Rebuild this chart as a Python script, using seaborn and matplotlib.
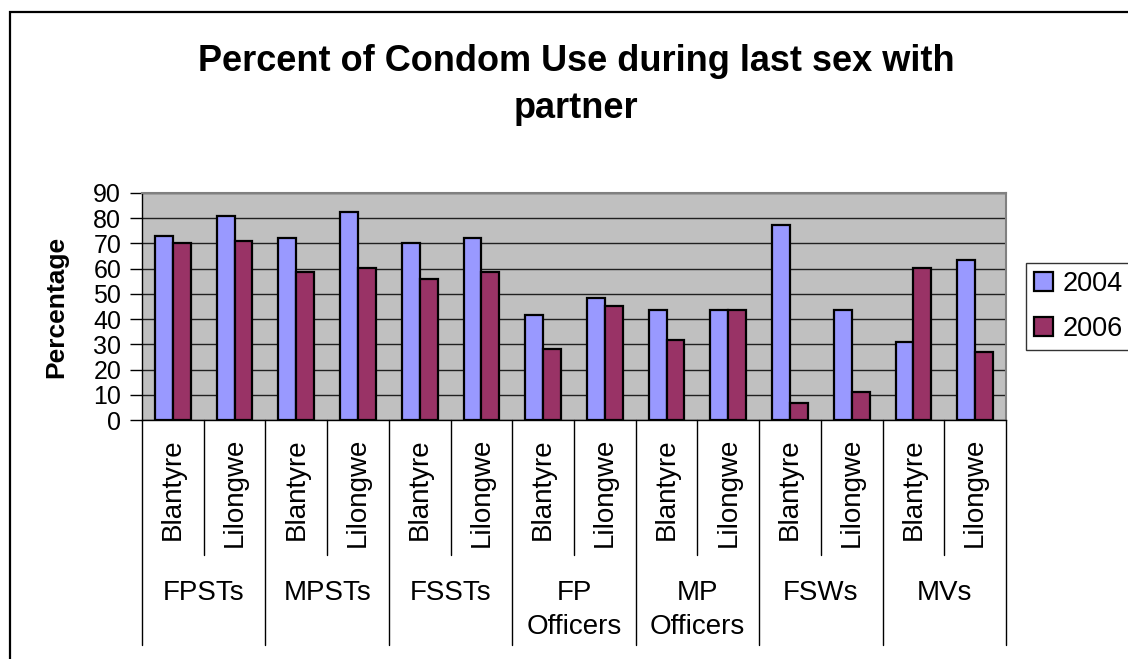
import numpy as np
import pandas as pd
import matplotlib
matplotlib.use("Agg")
import matplotlib.pyplot as plt
from matplotlib.patches import Rectangle
from matplotlib.transforms import blended_transform_factory
import seaborn as sns

# ---- data ----
groups = ["FPSTs", "MPSTs", "FSSTs", "FP\nOfficers", "MP\nOfficers", "FSWs", "MVs"]
cities = ["Blantyre", "Lilongwe"]
years = ["2004", "2006"]
values_2004 = [73.0, 80.7, 72.3, 82.3, 70.2, 72.3, 41.8, 48.2, 43.8, 43.8, 77.3, 43.8, 31.1, 63.5]
values_2006 = [70.0, 70.9, 58.6, 60.2, 55.9, 58.6, 28.2, 45.3, 31.7, 43.8, 6.9, 11.2, 60.2, 26.8]
title = "Percent of Condom Use during last sex with\npartner"
ylabel = "Percentage"

sns.set_theme(style="white")
plt.rcParams["font.family"] = ["Liberation Sans", "DejaVu Sans"]
plt.rcParams["text.color"] = "black"
plt.rcParams["axes.labelcolor"] = "black"
plt.rcParams["xtick.color"] = "black"
plt.rcParams["ytick.color"] = "black"

slots = [f"{g.replace(chr(10), ' ')} | {c}" for g in groups for c in cities]
df = pd.DataFrame({
    "slot": slots * 2,
    "value": values_2004 + values_2006,
    "year": [years[0]] * len(slots) + [years[1]] * len(slots),
})

W, H = 1128, 659
fig = plt.figure(figsize=(W / 100, H / 100), dpi=100)
fig.patch.set_facecolor("white")
ax = fig.add_axes([142 / W, 1 - 420 / H, 864 / W, 227 / H])
ax.set_facecolor("#C0C0C0")

sns.barplot(data=df, x="slot", y="value", hue="year", order=slots,
            palette=["#9999FF", "#993366"], width=0.58, gap=0,
            edgecolor="black", linewidth=1.6, saturation=1, ax=ax)

ax.set_ylim(0, 90)
ax.set_xlim(-0.5, len(slots) - 0.5)
ax.set_yticks(range(0, 91, 10))
ax.yaxis.grid(True, color="#202020", linewidth=1)
ax.set_axisbelow(True)
ax.tick_params(axis="y", left=True, length=9, width=1, color="black",
               labelsize=18, pad=6, direction="out", labelcolor="black")
ax.set_xticks(range(len(slots)))
ax.set_xticklabels([])
ax.tick_params(axis="x", length=0)
ax.set_xlabel("")
ax.set_ylabel(ylabel, fontsize=19, fontweight="bold", labelpad=18, color="black")
for s in ["left", "bottom"]:
    ax.spines[s].set_color("black")
    ax.spines[s].set_linewidth(1)
for s in ["top", "right"]:
    ax.spines[s].set_color("#808080")
    ax.spines[s].set_linewidth(1.5)

# two-level category axis
trans = blended_transform_factory(ax.transData, fig.transFigure)
y_axis = 1 - 420 / H
y_sub_end = 1 - 555 / H
y_grp_end = 1 - 645 / H
for i in range(len(slots) + 1):
    x = i - 0.5
    y_end = y_grp_end if i % 2 == 0 else y_sub_end
    ax.plot([x, x], [y_axis, y_end], transform=trans, color="black",
            lw=1, clip_on=False)
for gi, g in enumerate(groups):
    for ci, c in enumerate(cities):
        ax.text(gi * 2 + ci, 1 - 438 / H, c, transform=trans, rotation=90,
                ha="center", va="top", fontsize=20, color="black")
    ax.text(gi * 2 + 0.5, 1 - 580 / H, g, transform=trans, ha="center",
            va="top", fontsize=20, linespacing=1.4, color="black")

# legend
handles, labels = ax.get_legend_handles_labels()
leg = ax.legend(handles, labels, loc="upper left",
                bbox_to_anchor=(1026 / W, 1 - 263 / H), bbox_transform=fig.transFigure,
                fontsize=19.5, frameon=True, fancybox=False, edgecolor="black",
                handlelength=0.7, handleheight=0.7, handletextpad=0.35,
                borderpad=0.3, labelspacing=0.7, borderaxespad=0)
leg.get_frame().set_linewidth(1)
for t in leg.get_texts():
    t.set_color("black")

fig.text(576 / W, 1 - 44 / H, title, ha="center", va="top",
         fontsize=26, fontweight="bold", linespacing=1.45, color="black")

fig.add_artist(Rectangle((9.5 / W, -0.1), 1.2, 1 - 11.5 / H + 0.1,
                         transform=fig.transFigure, fill=False,
                         edgecolor="black", linewidth=1.6))

fig.savefig("out.png", dpi=100)
